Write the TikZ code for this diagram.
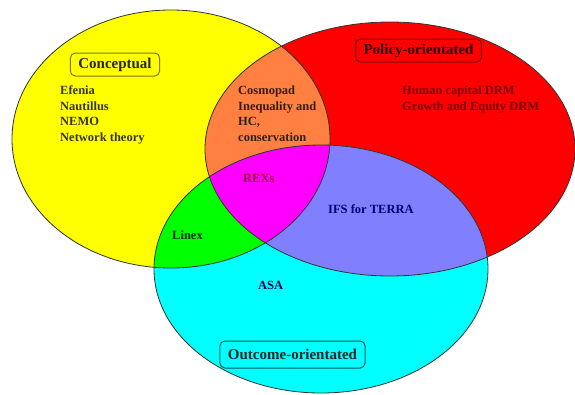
\documentclass[tikz,border=0pt]{standalone}
\usepackage{fontspec}
\setmainfont{Liberation Serif}
\definecolor{cyel}{HTML}{FFFF00}
\definecolor{cred}{HTML}{FF0000}
\definecolor{ccyan}{HTML}{00FFFF}
\definecolor{corange}{HTML}{FF8040}
\definecolor{cgreen}{HTML}{00FF00}
\definecolor{cblue}{HTML}{8080FF}
\definecolor{cmag}{HTML}{FF00FF}
\definecolor{edge}{HTML}{333333}
\begin{document}
\begin{tikzpicture}[x=1pt,y=-1pt,
  lbl/.style={inner sep=0pt,anchor=base west,font=\fontsize{12.5}{15}\selectfont\bfseries},
  tbox/.style={draw,rounded corners=5pt,line width=1pt,inner xsep=8pt,minimum height=23pt,font=\fontsize{15}{18}\selectfont\bfseries}]
\useasboundingbox (0,0) rectangle (575,394);
\def\EY{(171,139) ellipse [x radius=159pt, y radius=129pt]}
\def\ER{(390,149) ellipse [x radius=185pt, y radius=127pt]}
\def\EC{(321,269) ellipse [x radius=167pt, y radius=124pt]}
% base fills
\fill[cyel] \EY;
\fill[cred] \ER;
\fill[ccyan] \EC;
% pairwise overlaps
\begin{scope}\clip \EY; \fill[corange] \ER; \end{scope}
\begin{scope}\clip \EY; \fill[cgreen] \EC; \end{scope}
\begin{scope}\clip \ER; \fill[cblue] \EC; \end{scope}
\begin{scope}\clip \EY; \clip \ER; \fill[cmag] \EC; \end{scope}
% outlines
\draw[edge,line width=0.8pt] \EY;
\draw[edge,line width=0.8pt] \ER;
\draw[edge,line width=0.8pt] \EC;
% titles
\node[tbox,draw=olive!85!black,text=black!85] (conc) at (115,64.5) {Conceptual};
\node[tbox,draw=red!50!black,text=black!85!red] (pol) at (418.5,50.5) {Policy-orientated};
\node[tbox,draw=teal!70!black,text=black!85,minimum height=27pt] (out) at (292.5,354.5) {Outcome-orientated};
% conceptual only
\node[lbl,text=black!80!olive] (c1) at (60,94) {Efenia};
\node[lbl,text=black!80!olive] (c2) at (60,110) {Nautillus};
\node[lbl,text=black!80!olive] (c3) at (60,125.5) {NEMO};
\node[lbl,text=black!80!olive] (c4) at (60,141) {Network theory};
% conceptual & policy
\node[lbl,text=black!75!brown] (o1) at (238,94) {Cosmopad};
\node[lbl,text=black!75!brown] (o2) at (238,110) {Inequality and};
\node[lbl,text=black!75!brown] (o3) at (238,125.5) {HC,};
\node[lbl,text=black!75!brown] (o4) at (238,141) {conservation};
% policy only
\node[lbl,text=red!45!black] (p1) at (402,94) {Human capital DRM};
\node[lbl,text=red!45!black] (p2) at (402,110) {Growth and Equity DRM};
% others
\node[lbl,text=purple!80!black] (rex) at (243,182) {REXs};
\node[lbl,text=blue!45!black] (ifs) at (328,213) {IFS for TERRA};
\node[lbl,text=black!85!green] (lin) at (172,239) {Linex};
\node[lbl,text=blue!30!black] (asa) at (258,289) {ASA};
\end{tikzpicture}
\end{document}
